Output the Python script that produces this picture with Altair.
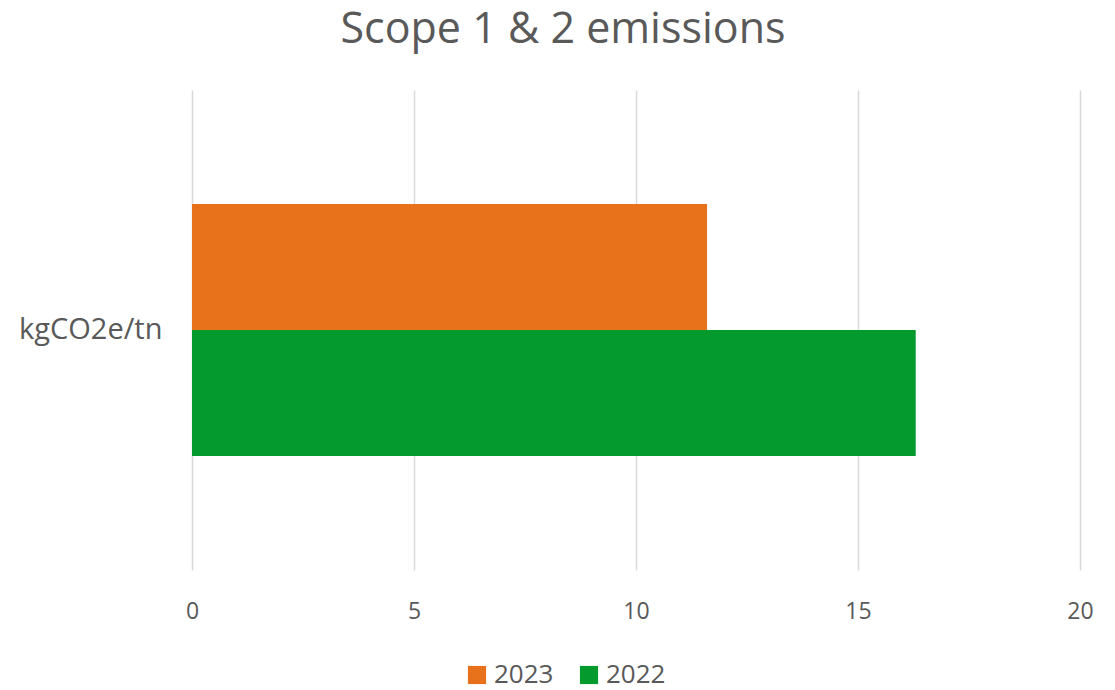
import altair as alt
import pandas as pd

categories = ["kgCO2e/tn", "kgCO2e/tn"]
years = ["2023", "2022"]
values = [11.6, 16.3]
colors = ["#E8711C", "#049A2E"]

df = pd.DataFrame({"cat": categories, "year": years, "value": values})

FONT = "Open Sans"
GREY = "#595959"

chart = alt.Chart(df).mark_bar().encode(
    x=alt.X("value:Q",
            scale=alt.Scale(domain=[0, 20], nice=False),
            axis=alt.Axis(values=[0, 5, 10, 15, 20], title=None, domain=False,
                          ticks=False, grid=True, gridColor="#D9D9D9", gridWidth=1.5,
                          labelFontSize=23, labelColor=GREY, labelFont=FONT,
                          labelPadding=30, labelFlush=False)),
    y=alt.Y("cat:N",
            scale=alt.Scale(paddingInner=0, paddingOuter=0.452),
            axis=alt.Axis(title=None, domain=False, ticks=False, grid=False,
                          labelFontSize=29, labelColor=GREY, labelFont=FONT,
                          labelPadding=30)),
    yOffset=alt.YOffset("year:N", sort=years, scale=alt.Scale(paddingInner=0, paddingOuter=0)),
    color=alt.Color("year:N", sort=years,
                    scale=alt.Scale(domain=years, range=colors),
                    legend=alt.Legend(title=None, orient="none", direction="horizontal",
                                      legendX=272, legendY=572,
                                      symbolType="square", symbolSize=330,
                                      symbolStrokeWidth=0,
                                      labelFontSize=26, labelColor=GREY, labelFont=FONT,
                                      columnPadding=22, labelOffset=4)),
).properties(
    width=888,
    height=480,
    title=alt.TitleParams("Scope 1 & 2 emissions", fontSize=43, color=GREY, font=FONT,
                          fontWeight="normal", anchor="middle", dx=-73,
                          baseline="alphabetic", offset=4),
    autosize=alt.AutoSizeParams(type="none"),
    padding={"left": 192, "top": 90, "right": 35, "bottom": 120},
).configure_view(stroke=None)

chart.save("out.html", embed_options={"renderer": "svg", "actions": False})
